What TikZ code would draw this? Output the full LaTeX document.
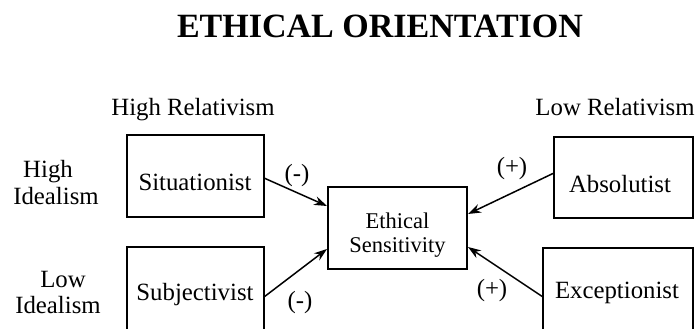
\documentclass[tikz,border=0pt]{standalone}
\usepackage{fontspec}
\setmainfont{Liberation Serif}
\usetikzlibrary{arrows.meta}
\begin{document}
\begin{tikzpicture}[x=1pt,y=-1pt,
  box/.style={draw,line width=2.8pt},
  txt/.style={anchor=base,inner sep=0pt,font=\fontsize{24.8}{28}\selectfont},
  stxt/.style={anchor=base,inner sep=0pt,font=\fontsize{22.5}{26}\selectfont},
  lab/.style={inner sep=0pt,font=\fontsize{24.8}{28}\selectfont},
  arr/.style={-{Stealth[length=13pt,width=9pt]},line width=1.5pt}]
\useasboundingbox (0,0) rectangle (699,329);
% title
\node[anchor=base,inner sep=0pt,font=\fontsize{34}{38}\selectfont\bfseries] (title) at (380,38) {ETHICAL ORIENTATION};
% column headers
\node[txt] (hrel) at (193,115) {High Relativism};
\node[txt] (lrel) at (615,115) {Low Relativism};
% row headers
\node[txt] (hi1) at (48,177) {High};
\node[txt] (hi2) at (56,204) {Idealism};
\node[txt] (lo1) at (63,287) {Low};
\node[txt] (lo2) at (58,313) {Idealism};
% boxes
\draw[box] (127,135) rectangle (264,217);
\coordinate (sitR1) at (264,178);
\node[txt] (sit) at (195,190) {Situationist};
\draw[box] (127,247) rectangle (264,335);
\coordinate (subR) at (264,297);
\node[txt] (sub) at (195,300) {Subjectivist};
\draw[box] (554,137) rectangle (693,218);
\coordinate (absL) at (554,173);
\node[txt] (abs) at (620,192) {Absolutist};
\draw[box] (543,248) rectangle (693,335);
\coordinate (excL) at (543,297);
\node[txt] (exc) at (617,298) {Exceptionist};
\draw[box] (328,187) rectangle (467,269);
\coordinate (esL1) at (327,206);
\coordinate (esL2) at (327,249);
\coordinate (esR1) at (468,214);
\coordinate (esR2) at (468,247);
\node[stxt] (es1) at (397.5,228) {Ethical};
\node[stxt] (es2) at (397.5,252) {Sensitivity};
% arrows
\draw[arr] (sitR1) -- (esL1);
\draw[arr] (subR) -- (esL2);
\draw[arr] (absL) -- (esR1);
\draw[arr] (excL) -- (esR2);
% arrow labels
\node[lab] (m1) at (297,176) {(-)};
\node[lab] (m2) at (300,303) {(-)};
\node[lab] (p1) at (512,169) {(+)};
\node[lab] (p2) at (492,291) {(+)};
\end{tikzpicture}
\end{document}
